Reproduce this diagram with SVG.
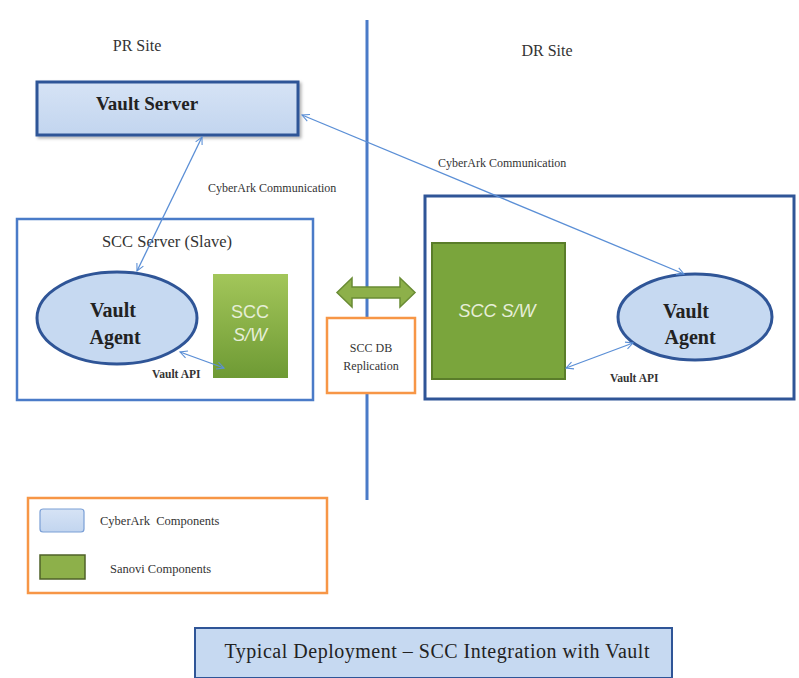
<svg xmlns="http://www.w3.org/2000/svg" width="799" height="678" viewBox="0 0 799 678">
<defs>
<linearGradient id="gBlue" x1="0" y1="0" x2="0" y2="1"><stop offset="0" stop-color="#d6e3f5"/><stop offset="1" stop-color="#c2d5ef"/></linearGradient>
<linearGradient id="gGreen" x1="0" y1="0" x2="0" y2="1"><stop offset="0" stop-color="#a3c65a"/><stop offset="1" stop-color="#6e9a34"/></linearGradient>
<marker id="ah" viewBox="0 0 10 10" refX="9" refY="5" markerWidth="9" markerHeight="9" orient="auto-start-reverse" markerUnits="userSpaceOnUse">
<polyline points="1,1 9,5 1,9" fill="none" stroke="#5b8fd6" stroke-width="1.2"/>
</marker>
<filter id="sh" x="-5%" y="-5%" width="115%" height="130%"><feDropShadow dx="2" dy="2" stdDeviation="1.5" flood-color="#000" flood-opacity="0.3"/></filter>
</defs>
<style>
.serif{font-family:"Liberation Serif","Times New Roman",serif}
.lbl{font-family:"Liberation Serif",serif;fill:#333}
.small{font-size:12px}
.conn{stroke:#5b8fd6;stroke-width:1.3;fill:none}
.sw{font-family:"Liberation Sans",Arial,sans-serif;fill:#e6eed8;font-size:18px}
</style>
<rect width="799" height="678" fill="#ffffff"/>

<g id="divider"><line x1="367" y1="20" x2="367" y2="500" stroke="#4a7bc8" stroke-width="3"/></g>

<text class="lbl" x="137" y="51" font-size="16" text-anchor="middle">PR Site</text>
<text class="lbl" x="547" y="56" font-size="16" text-anchor="middle">DR Site</text>

<g id="vault-server">
<rect x="37" y="82" width="261" height="53" fill="url(#gBlue)" stroke="#2f5597" stroke-width="3" filter="url(#sh)"/>
<text class="serif" x="147" y="110" font-size="19" font-weight="bold" fill="#222" text-anchor="middle">Vault Server</text>
</g>

<g id="scc-server-slave">
<rect x="17" y="219" width="296" height="181" fill="none" stroke="#4a7bc8" stroke-width="2.5"/>
<text class="lbl" x="167" y="247" font-size="16.5" text-anchor="middle">SCC Server (Slave)</text>
</g>

<g id="vault-agent-pr">
<ellipse cx="117" cy="318" rx="80" ry="46" fill="#c6d9f1" stroke="#2f5597" stroke-width="3"/>
<text class="serif" x="113" y="317" font-size="20" font-weight="bold" fill="#222" text-anchor="middle">Vault</text>
<text class="serif" x="115" y="344" font-size="20" font-weight="bold" fill="#222" text-anchor="middle">Agent</text>
</g>

<g id="scc-sw-pr">
<rect x="213" y="274" width="75" height="104" fill="url(#gGreen)"/>
<text class="sw" x="250" y="318" text-anchor="middle">SCC</text>
<text class="sw" x="250" y="341" text-anchor="middle" font-style="italic">S/W</text>
</g>

<g id="dr-server">
<rect x="425" y="196" width="369" height="203" fill="none" stroke="#2f5597" stroke-width="3"/>
</g>

<g id="scc-sw-dr">
<rect x="432" y="243" width="133" height="136" fill="#7aa53c" stroke="#5a7d2a" stroke-width="2"/>
<text class="sw" x="497" y="317" text-anchor="middle" font-style="italic">SCC S/W</text>
</g>

<g id="vault-agent-dr">
<ellipse cx="695" cy="317" rx="77" ry="43" fill="#c6d9f1" stroke="#2f5597" stroke-width="3"/>
<text class="serif" x="686" y="318" font-size="20" font-weight="bold" fill="#222" text-anchor="middle">Vault</text>
<text class="serif" x="690" y="344" font-size="20" font-weight="bold" fill="#222" text-anchor="middle">Agent</text>
</g>

<g id="db-replication">
<path d="M337,292.5 L352,278 L352,287 L400,287 L400,278 L415,292.5 L400,307 L400,298 L352,298 L352,307 Z" fill="#8db04a" stroke="#6a8c34" stroke-width="1.5"/>
<rect x="327" y="318" width="88" height="75" fill="#ffffff" stroke="#f79646" stroke-width="2.5"/>
<text class="lbl small" x="371" y="352" text-anchor="middle">SCC DB</text>
<text class="lbl small" x="371" y="370" text-anchor="middle">Replication</text>
</g>

<g id="connectors">
<line class="conn" x1="202" y1="137" x2="137" y2="271" marker-start="url(#ah)" marker-end="url(#ah)"/>
<line class="conn" x1="302" y1="115" x2="684" y2="274" marker-start="url(#ah)" marker-end="url(#ah)"/>
<line class="conn" x1="180" y1="352" x2="224" y2="368" marker-start="url(#ah)" marker-end="url(#ah)"/>
<line class="conn" x1="566" y1="368" x2="633" y2="343" marker-start="url(#ah)" marker-end="url(#ah)"/>
<text class="lbl small" x="208" y="192">CyberArk Communication</text>
<text class="lbl small" x="438" y="167">CyberArk Communication</text>
<text class="lbl" x="152" y="378" font-size="11.5" font-weight="bold">Vault API</text>
<text class="lbl" x="610" y="382" font-size="11.5" font-weight="bold">Vault API</text>
</g>

<g id="legend">
<rect x="28" y="498" width="299" height="95" fill="#ffffff" stroke="#f79646" stroke-width="2.5"/>
<rect x="40" y="509" width="44" height="23" rx="3" fill="url(#gBlue)" stroke="#7a9fd6" stroke-width="1.2"/>
<text class="lbl" x="100" y="525" font-size="12.5" xml:space="preserve">CyberArk  Components</text>
<rect x="40" y="555" width="45" height="24" fill="#8db04a" stroke="#4f6228" stroke-width="1.5"/>
<text class="lbl" x="110" y="573" font-size="12.5">Sanovi Components</text>
</g>

<g id="title">
<rect x="195" y="628" width="477" height="50" fill="#c6d9f1" stroke="#2f5597" stroke-width="2"/>
<text class="serif" x="437" y="658" font-size="20" fill="#222" text-anchor="middle" textLength="425">Typical Deployment – SCC Integration with Vault</text>
</g>
</svg>
